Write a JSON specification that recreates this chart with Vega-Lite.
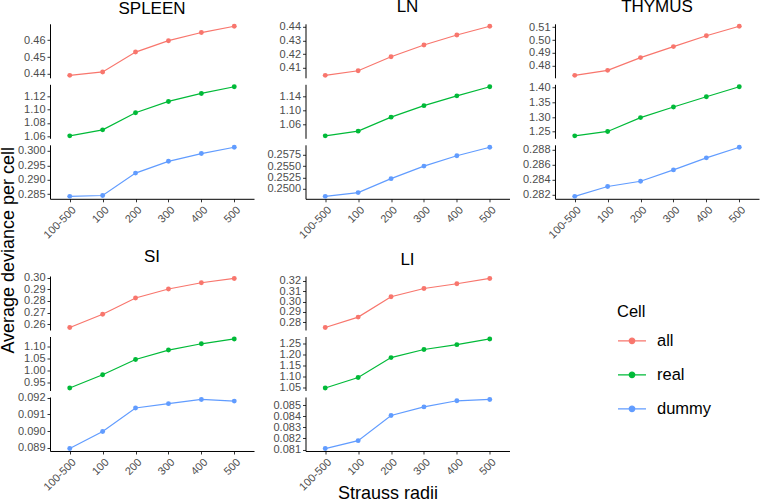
{
"$schema": "https://vega.github.io/schema/vega-lite/v6.json",
"padding": {"left": 0, "top": -3.2, "right": 1, "bottom": 0},
"background": "white",
"title": {"text": "Average deviance per cell", "orient": "left", "anchor": "middle", "frame": "bounds", "fontSize": 18, "fontWeight": "normal", "color": "black", "offset": -4, "dy": -3},
"data": {"values": [
{"t":"SPLEEN","c":"all","r":"100-500","v":0.4392},{"t":"SPLEEN","c":"all","r":"100","v":0.4412},{"t":"SPLEEN","c":"all","r":"200","v":0.4529},{"t":"SPLEEN","c":"all","r":"300","v":0.4596},{"t":"SPLEEN","c":"all","r":"400","v":0.4644},{"t":"SPLEEN","c":"all","r":"500","v":0.4681},
{"t":"SPLEEN","c":"real","r":"100-500","v":1.0605},{"t":"SPLEEN","c":"real","r":"100","v":1.0695},{"t":"SPLEEN","c":"real","r":"200","v":1.095},{"t":"SPLEEN","c":"real","r":"300","v":1.112},{"t":"SPLEEN","c":"real","r":"400","v":1.124},{"t":"SPLEEN","c":"real","r":"500","v":1.134},
{"t":"SPLEEN","c":"dummy","r":"100-500","v":0.2842},{"t":"SPLEEN","c":"dummy","r":"100","v":0.2845},{"t":"SPLEEN","c":"dummy","r":"200","v":0.2923},{"t":"SPLEEN","c":"dummy","r":"300","v":0.2964},{"t":"SPLEEN","c":"dummy","r":"400","v":0.2991},{"t":"SPLEEN","c":"dummy","r":"500","v":0.3013},
{"t":"LN","c":"all","r":"100-500","v":0.4044},{"t":"LN","c":"all","r":"100","v":0.4078},{"t":"LN","c":"all","r":"200","v":0.4181},{"t":"LN","c":"all","r":"300","v":0.4267},{"t":"LN","c":"all","r":"400","v":0.4341},{"t":"LN","c":"all","r":"500","v":0.4405},
{"t":"LN","c":"real","r":"100-500","v":1.0276},{"t":"LN","c":"real","r":"100","v":1.041},{"t":"LN","c":"real","r":"200","v":1.081},{"t":"LN","c":"real","r":"300","v":1.114},{"t":"LN","c":"real","r":"400","v":1.142},{"t":"LN","c":"real","r":"500","v":1.168},
{"t":"LN","c":"dummy","r":"100-500","v":0.24826},{"t":"LN","c":"dummy","r":"100","v":0.2491},{"t":"LN","c":"dummy","r":"200","v":0.2522},{"t":"LN","c":"dummy","r":"300","v":0.255},{"t":"LN","c":"dummy","r":"400","v":0.2573},{"t":"LN","c":"dummy","r":"500","v":0.2592},
{"t":"THYMUS","c":"all","r":"100-500","v":0.4724},{"t":"THYMUS","c":"all","r":"100","v":0.4763},{"t":"THYMUS","c":"all","r":"200","v":0.4863},{"t":"THYMUS","c":"all","r":"300","v":0.4949},{"t":"THYMUS","c":"all","r":"400","v":0.5034},{"t":"THYMUS","c":"all","r":"500","v":0.5108},
{"t":"THYMUS","c":"real","r":"100-500","v":1.236},{"t":"THYMUS","c":"real","r":"100","v":1.251},{"t":"THYMUS","c":"real","r":"200","v":1.298},{"t":"THYMUS","c":"real","r":"300","v":1.334},{"t":"THYMUS","c":"real","r":"400","v":1.369},{"t":"THYMUS","c":"real","r":"500","v":1.403},
{"t":"THYMUS","c":"dummy","r":"100-500","v":0.2818},{"t":"THYMUS","c":"dummy","r":"100","v":0.2831},{"t":"THYMUS","c":"dummy","r":"200","v":0.2838},{"t":"THYMUS","c":"dummy","r":"300","v":0.2853},{"t":"THYMUS","c":"dummy","r":"400","v":0.2869},{"t":"THYMUS","c":"dummy","r":"500","v":0.2883},
{"t":"SI","c":"all","r":"100-500","v":0.2571},{"t":"SI","c":"all","r":"100","v":0.2686},{"t":"SI","c":"all","r":"200","v":0.2826},{"t":"SI","c":"all","r":"300","v":0.2903},{"t":"SI","c":"all","r":"400","v":0.2957},{"t":"SI","c":"all","r":"500","v":0.2994},
{"t":"SI","c":"real","r":"100-500","v":0.928},{"t":"SI","c":"real","r":"100","v":0.983},{"t":"SI","c":"real","r":"200","v":1.046},{"t":"SI","c":"real","r":"300","v":1.085},{"t":"SI","c":"real","r":"400","v":1.111},{"t":"SI","c":"real","r":"500","v":1.131},
{"t":"SI","c":"dummy","r":"100-500","v":0.08896},{"t":"SI","c":"dummy","r":"100","v":0.08998},{"t":"SI","c":"dummy","r":"200","v":0.09138},{"t":"SI","c":"dummy","r":"300","v":0.09164},{"t":"SI","c":"dummy","r":"400","v":0.09189},{"t":"SI","c":"dummy","r":"500","v":0.09179},
{"t":"LI","c":"all","r":"100-500","v":0.2748},{"t":"LI","c":"all","r":"100","v":0.2849},{"t":"LI","c":"all","r":"200","v":0.3046},{"t":"LI","c":"all","r":"300","v":0.3126},{"t":"LI","c":"all","r":"400","v":0.3172},{"t":"LI","c":"all","r":"500","v":0.3223},
{"t":"LI","c":"real","r":"100-500","v":1.047},{"t":"LI","c":"real","r":"100","v":1.095},{"t":"LI","c":"real","r":"200","v":1.186},{"t":"LI","c":"real","r":"300","v":1.223},{"t":"LI","c":"real","r":"400","v":1.245},{"t":"LI","c":"real","r":"500","v":1.271},
{"t":"LI","c":"dummy","r":"100-500","v":0.08109},{"t":"LI","c":"dummy","r":"100","v":0.0818},{"t":"LI","c":"dummy","r":"200","v":0.08406},{"t":"LI","c":"dummy","r":"300","v":0.08483},{"t":"LI","c":"dummy","r":"400","v":0.08538},{"t":"LI","c":"dummy","r":"500","v":0.0855}
]},
"vconcat": [
 {"hconcat": [
  {"spacing": 6.5, "bounds": "flush", "vconcat": [
   {"width": 204, "height": 54, "title": {"text": "SPLEEN", "anchor": "middle", "frame": "group"}, "transform": [{"filter": "datum.t==='SPLEEN' && datum.c==='all'"}],
    "mark": {"type": "line", "strokeWidth": 1.2, "point": {"filled": true, "size": 24}},
    "encoding": {
     "x": {"field": "r", "type": "ordinal", "scale": {"type": "point", "padding": 0.6, "domain": ["100-500","100","200","300","400","500"]}, "axis": null},
     "y": {"field": "v", "type": "quantitative", "scale": {"zero": false, "nice": false, "padding": 2.45}, "axis": {"values": [0.44,0.45,0.46], "format": ".2f", "title": null}},
     "color": {"field": "c", "type": "nominal", "scale": {"domain": ["all","real","dummy"], "range": ["#F8766D","#00BA38","#619CFF"]},
      "legend": {"title": "Cell", "orient": "none", "legendX": 567, "legendY": 280, "symbolType": "M-1,0L1,0M-0.2,0A0.2,0.2,0,1,1,0.2,0A0.2,0.2,0,1,1,-0.2,0Z",
       "encode": {"symbols": {"update": {"fill": {"scale": "color", "field": "value"}, "fillOpacity": {"value": 1}}}}}}
    }},
   {"width": 204, "height": 54, "transform": [{"filter": "datum.t==='SPLEEN' && datum.c==='real'"}],
    "mark": {"type": "line", "strokeWidth": 1.2, "point": {"filled": true, "size": 24}},
    "encoding": {
     "x": {"field": "r", "type": "ordinal", "scale": {"type": "point", "padding": 0.6, "domain": ["100-500","100","200","300","400","500"]}, "axis": null},
     "y": {"field": "v", "type": "quantitative", "scale": {"zero": false, "nice": false, "padding": 2.45}, "axis": {"values": [1.06,1.08,1.10,1.12], "format": ".2f", "title": null}},
     "color": {"field": "c", "type": "nominal", "scale": {"domain": ["all","real","dummy"], "range": ["#F8766D","#00BA38","#619CFF"]}, "legend": null}
    }},
   {"width": 204, "height": 54, "transform": [{"filter": "datum.t==='SPLEEN' && datum.c==='dummy'"}],
    "mark": {"type": "line", "strokeWidth": 1.2, "point": {"filled": true, "size": 24}},
    "encoding": {
     "x": {"field": "r", "type": "ordinal", "scale": {"type": "point", "padding": 0.6, "domain": ["100-500","100","200","300","400","500"]}, "axis": {"labelAngle": -45, "labelAlign": "right", "labelBaseline": "top", "title": null}},
     "y": {"field": "v", "type": "quantitative", "scale": {"zero": false, "nice": false, "padding": 2.45}, "axis": {"values": [0.285,0.290,0.295,0.300], "format": ".3f", "title": null}},
     "color": {"field": "c", "type": "nominal", "scale": {"domain": ["all","real","dummy"], "range": ["#F8766D","#00BA38","#619CFF"]}, "legend": null}
    }}
  ]},
  {"spacing": 6.5, "bounds": "flush", "vconcat": [
   {"width": 204, "height": 54, "title": {"text": "LN", "anchor": "middle", "frame": "group"}, "transform": [{"filter": "datum.t==='LN' && datum.c==='all'"}],
    "mark": {"type": "line", "strokeWidth": 1.2, "point": {"filled": true, "size": 24}},
    "encoding": {
     "x": {"field": "r", "type": "ordinal", "scale": {"type": "point", "padding": 0.6, "domain": ["100-500","100","200","300","400","500"]}, "axis": null},
     "y": {"field": "v", "type": "quantitative", "scale": {"zero": false, "nice": false, "padding": 2.45}, "axis": {"values": [0.41,0.42,0.43,0.44], "format": ".2f", "title": null}},
     "color": {"field": "c", "type": "nominal", "scale": {"domain": ["all","real","dummy"], "range": ["#F8766D","#00BA38","#619CFF"]}, "legend": null}
    }},
   {"width": 204, "height": 54, "transform": [{"filter": "datum.t==='LN' && datum.c==='real'"}],
    "mark": {"type": "line", "strokeWidth": 1.2, "point": {"filled": true, "size": 24}},
    "encoding": {
     "x": {"field": "r", "type": "ordinal", "scale": {"type": "point", "padding": 0.6, "domain": ["100-500","100","200","300","400","500"]}, "axis": null},
     "y": {"field": "v", "type": "quantitative", "scale": {"zero": false, "nice": false, "padding": 2.45}, "axis": {"values": [1.06,1.10,1.14], "format": ".2f", "title": null}},
     "color": {"field": "c", "type": "nominal", "scale": {"domain": ["all","real","dummy"], "range": ["#F8766D","#00BA38","#619CFF"]}, "legend": null}
    }},
   {"width": 204, "height": 54, "transform": [{"filter": "datum.t==='LN' && datum.c==='dummy'"}],
    "mark": {"type": "line", "strokeWidth": 1.2, "point": {"filled": true, "size": 24}},
    "encoding": {
     "x": {"field": "r", "type": "ordinal", "scale": {"type": "point", "padding": 0.6, "domain": ["100-500","100","200","300","400","500"]}, "axis": {"labelAngle": -45, "labelAlign": "right", "labelBaseline": "top", "title": null}},
     "y": {"field": "v", "type": "quantitative", "scale": {"zero": false, "nice": false, "padding": 2.45}, "axis": {"values": [0.25,0.2525,0.255,0.2575], "format": ".4f", "title": null}},
     "color": {"field": "c", "type": "nominal", "scale": {"domain": ["all","real","dummy"], "range": ["#F8766D","#00BA38","#619CFF"]}, "legend": null}
    }}
  ]},
  {"spacing": 6.5, "bounds": "flush", "vconcat": [
   {"width": 204, "height": 54, "title": {"text": "THYMUS", "anchor": "middle", "frame": "group"}, "transform": [{"filter": "datum.t==='THYMUS' && datum.c==='all'"}],
    "mark": {"type": "line", "strokeWidth": 1.2, "point": {"filled": true, "size": 24}},
    "encoding": {
     "x": {"field": "r", "type": "ordinal", "scale": {"type": "point", "padding": 0.6, "domain": ["100-500","100","200","300","400","500"]}, "axis": null},
     "y": {"field": "v", "type": "quantitative", "scale": {"zero": false, "nice": false, "padding": 2.45}, "axis": {"values": [0.48,0.49,0.50,0.51], "format": ".2f", "title": null}},
     "color": {"field": "c", "type": "nominal", "scale": {"domain": ["all","real","dummy"], "range": ["#F8766D","#00BA38","#619CFF"]}, "legend": null}
    }},
   {"width": 204, "height": 54, "transform": [{"filter": "datum.t==='THYMUS' && datum.c==='real'"}],
    "mark": {"type": "line", "strokeWidth": 1.2, "point": {"filled": true, "size": 24}},
    "encoding": {
     "x": {"field": "r", "type": "ordinal", "scale": {"type": "point", "padding": 0.6, "domain": ["100-500","100","200","300","400","500"]}, "axis": null},
     "y": {"field": "v", "type": "quantitative", "scale": {"zero": false, "nice": false, "padding": 2.45}, "axis": {"values": [1.25,1.30,1.35,1.40], "format": ".2f", "title": null}},
     "color": {"field": "c", "type": "nominal", "scale": {"domain": ["all","real","dummy"], "range": ["#F8766D","#00BA38","#619CFF"]}, "legend": null}
    }},
   {"width": 204, "height": 54, "transform": [{"filter": "datum.t==='THYMUS' && datum.c==='dummy'"}],
    "mark": {"type": "line", "strokeWidth": 1.2, "point": {"filled": true, "size": 24}},
    "encoding": {
     "x": {"field": "r", "type": "ordinal", "scale": {"type": "point", "padding": 0.6, "domain": ["100-500","100","200","300","400","500"]}, "axis": {"labelAngle": -45, "labelAlign": "right", "labelBaseline": "top", "title": null}},
     "y": {"field": "v", "type": "quantitative", "scale": {"zero": false, "nice": false, "padding": 2.45}, "axis": {"values": [0.282,0.284,0.286,0.288], "format": ".3f", "title": null}},
     "color": {"field": "c", "type": "nominal", "scale": {"domain": ["all","real","dummy"], "range": ["#F8766D","#00BA38","#619CFF"]}, "legend": null}
    }}
  ]}
 ], "spacing": 12.5},
 {"hconcat": [
  {"spacing": 6.5, "bounds": "flush", "vconcat": [
   {"width": 204, "height": 54, "title": {"text": "SI", "anchor": "middle", "frame": "group"}, "transform": [{"filter": "datum.t==='SI' && datum.c==='all'"}],
    "mark": {"type": "line", "strokeWidth": 1.2, "point": {"filled": true, "size": 24}},
    "encoding": {
     "x": {"field": "r", "type": "ordinal", "scale": {"type": "point", "padding": 0.6, "domain": ["100-500","100","200","300","400","500"]}, "axis": null},
     "y": {"field": "v", "type": "quantitative", "scale": {"zero": false, "nice": false, "padding": 2.45}, "axis": {"values": [0.26,0.27,0.28,0.29,0.30], "format": ".2f", "title": null}},
     "color": {"field": "c", "type": "nominal", "scale": {"domain": ["all","real","dummy"], "range": ["#F8766D","#00BA38","#619CFF"]}, "legend": null}
    }},
   {"width": 204, "height": 54, "transform": [{"filter": "datum.t==='SI' && datum.c==='real'"}],
    "mark": {"type": "line", "strokeWidth": 1.2, "point": {"filled": true, "size": 24}},
    "encoding": {
     "x": {"field": "r", "type": "ordinal", "scale": {"type": "point", "padding": 0.6, "domain": ["100-500","100","200","300","400","500"]}, "axis": null},
     "y": {"field": "v", "type": "quantitative", "scale": {"zero": false, "nice": false, "padding": 2.45}, "axis": {"values": [0.95,1.00,1.05,1.10], "format": ".2f", "title": null}},
     "color": {"field": "c", "type": "nominal", "scale": {"domain": ["all","real","dummy"], "range": ["#F8766D","#00BA38","#619CFF"]}, "legend": null}
    }},
   {"width": 204, "height": 54, "transform": [{"filter": "datum.t==='SI' && datum.c==='dummy'"}],
    "mark": {"type": "line", "strokeWidth": 1.2, "point": {"filled": true, "size": 24}},
    "encoding": {
     "x": {"field": "r", "type": "ordinal", "scale": {"type": "point", "padding": 0.6, "domain": ["100-500","100","200","300","400","500"]}, "axis": {"labelAngle": -45, "labelAlign": "right", "labelBaseline": "top", "title": null}},
     "y": {"field": "v", "type": "quantitative", "scale": {"zero": false, "nice": false, "padding": 2.45}, "axis": {"values": [0.089,0.090,0.091,0.092], "format": ".3f", "title": null}},
     "color": {"field": "c", "type": "nominal", "scale": {"domain": ["all","real","dummy"], "range": ["#F8766D","#00BA38","#619CFF"]}, "legend": null}
    }}
  ]},
  {"spacing": 6.5, "bounds": "flush", "vconcat": [
   {"width": 204, "height": 54, "title": {"text": "LI", "anchor": "middle", "frame": "group"}, "transform": [{"filter": "datum.t==='LI' && datum.c==='all'"}],
    "mark": {"type": "line", "strokeWidth": 1.2, "point": {"filled": true, "size": 24}},
    "encoding": {
     "x": {"field": "r", "type": "ordinal", "scale": {"type": "point", "padding": 0.6, "domain": ["100-500","100","200","300","400","500"]}, "axis": null},
     "y": {"field": "v", "type": "quantitative", "scale": {"zero": false, "nice": false, "padding": 2.45}, "axis": {"values": [0.28,0.29,0.30,0.31,0.32], "format": ".2f", "title": null}},
     "color": {"field": "c", "type": "nominal", "scale": {"domain": ["all","real","dummy"], "range": ["#F8766D","#00BA38","#619CFF"]}, "legend": null}
    }},
   {"width": 204, "height": 54, "transform": [{"filter": "datum.t==='LI' && datum.c==='real'"}],
    "mark": {"type": "line", "strokeWidth": 1.2, "point": {"filled": true, "size": 24}},
    "encoding": {
     "x": {"field": "r", "type": "ordinal", "scale": {"type": "point", "padding": 0.6, "domain": ["100-500","100","200","300","400","500"]}, "axis": null},
     "y": {"field": "v", "type": "quantitative", "scale": {"zero": false, "nice": false, "padding": 2.45}, "axis": {"values": [1.05,1.10,1.15,1.20,1.25], "format": ".2f", "title": null}},
     "color": {"field": "c", "type": "nominal", "scale": {"domain": ["all","real","dummy"], "range": ["#F8766D","#00BA38","#619CFF"]}, "legend": null}
    }},
   {"width": 204, "height": 54, "transform": [{"filter": "datum.t==='LI' && datum.c==='dummy'"}],
    "mark": {"type": "line", "strokeWidth": 1.2, "point": {"filled": true, "size": 24}},
    "encoding": {
     "x": {"field": "r", "type": "ordinal", "scale": {"type": "point", "padding": 0.6, "domain": ["100-500","100","200","300","400","500"]}, "axis": {"labelAngle": -45, "labelAlign": "right", "labelBaseline": "top", "title": "Strauss radii", "titleX": 82, "titleY": 48, "titleBaseline": "alphabetic", "titleAlign": "center", "titleFontSize": 18}},
     "y": {"field": "v", "type": "quantitative", "scale": {"zero": false, "nice": false, "padding": 2.45}, "axis": {"values": [0.081,0.082,0.083,0.084,0.085], "format": ".3f", "title": null}},
     "color": {"field": "c", "type": "nominal", "scale": {"domain": ["all","real","dummy"], "range": ["#F8766D","#00BA38","#619CFF"]}, "legend": null}
    }}
  ]}
 ], "spacing": 18.5}
],
"spacing": 7.2,
"config": {
 "font": "Liberation Sans",
 "view": {"stroke": null},
 "axis": {"grid": false, "domainColor": "black", "domainWidth": 1, "tickColor": "#333333", "tickSize": 3, "tickWidth": 1, "labelFontSize": 11, "labelColor": "#4d4d4d", "labelPadding": 2, "labelOverlap": false, "titleFontWeight": "normal", "titleFontSize": 18, "titleColor": "black"},
 "title": {"fontSize": 17, "fontWeight": "normal", "color": "black", "anchor": "middle", "baseline": "alphabetic", "offset": 5.4},
 "legend": {"titleFontSize": 16.5, "titleFontWeight": "normal", "titleColor": "black", "labelFontSize": 16.5, "labelColor": "black", "symbolSize": 784, "symbolStrokeWidth": 1.2, "labelOffset": 10, "rowPadding": 10, "titlePadding": 5.5, "padding": 0}
}
}
